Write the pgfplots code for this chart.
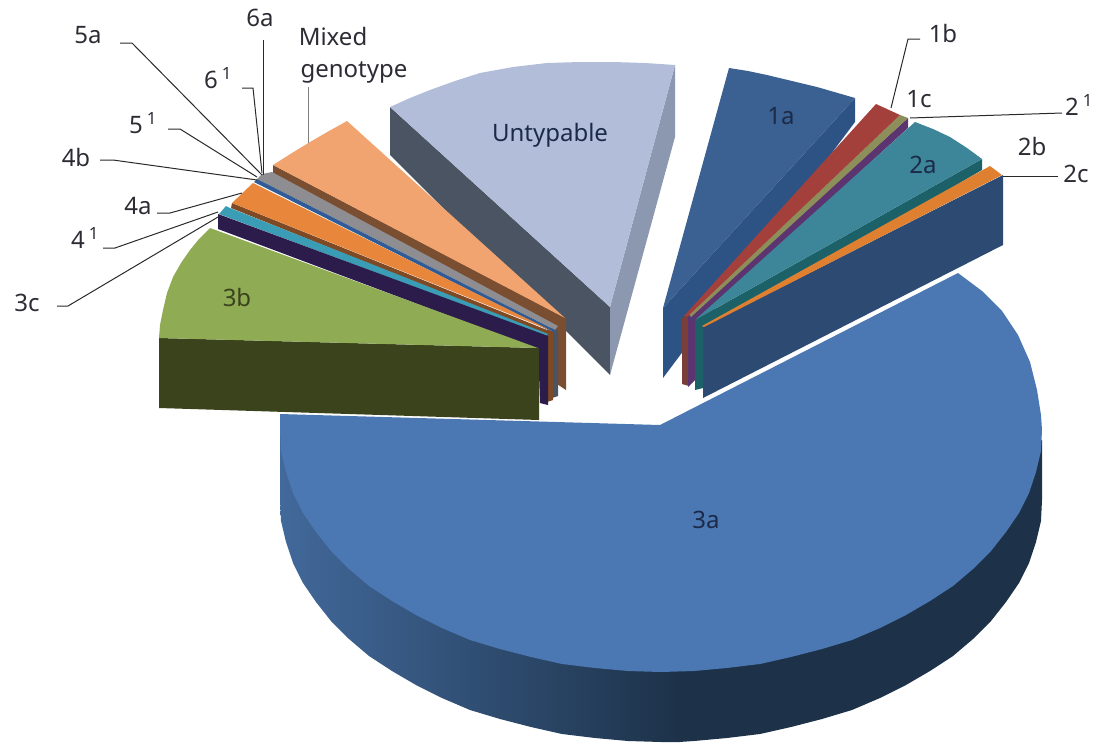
\documentclass[border=0pt]{standalone}
\usepackage{fontspec}
\setmainfont{Noto Sans}
\usepackage{pgfplots}
\pgfplotsset{compat=1.18}
\definecolor{topA}{HTML}{4B78B2}
\definecolor{wallAl}{HTML}{42699B}
\definecolor{wallAm}{HTML}{30527C}
\definecolor{wallAr}{HTML}{1D3249}
\definecolor{topU}{HTML}{B2BDD9}
\definecolor{wallUl}{HTML}{4A5462}
\definecolor{wallUr}{HTML}{8C97B0}
\definecolor{top1a}{HTML}{3A6192}
\definecolor{wall1a}{HTML}{2D5385}
\definecolor{red1b}{HTML}{A4403C}
\definecolor{brown1b}{HTML}{7A3F38}
\definecolor{olive1c}{HTML}{8C8F5A}
\definecolor{purple1c}{HTML}{5B3470}
\definecolor{top2a}{HTML}{3D8598}
\definecolor{wall2a}{HTML}{1C6168}
\definecolor{or2b}{HTML}{DE8030}
\definecolor{wall2c}{HTML}{2C4A72}
\definecolor{top3b}{HTML}{8FAB54}
\definecolor{wall3b}{HTML}{3B431C}
\definecolor{purple3c}{HTML}{2B1C4C}
\definecolor{teal4}{HTML}{3A9DB5}
\definecolor{or4a}{HTML}{E8873C}
\definecolor{wall4a}{HTML}{7E4A26}
\definecolor{blue4b}{HTML}{2F5C96}
\definecolor{gray5}{HTML}{8D8D92}
\definecolor{topM}{HTML}{F1A46F}
\definecolor{wallM}{HTML}{7A4E30}
\definecolor{leader}{HTML}{2A2A2A}
\definecolor{txt}{HTML}{2C2C34}
\definecolor{txtin}{HTML}{1B2A48}
\newcommand{\lab}[4][txt]{\node[text=#1,inner sep=0pt,font=\fontsize{24}{28}\selectfont] at (#2,#3) {#4};}
\begin{document}
\begin{tikzpicture}
\begin{axis}[
    scale only axis,width=1094pt,height=742pt,
    xmin=0,xmax=1094,ymin=0,ymax=742,y dir=reverse,
    axis lines=none,clip=false,
]
% keeps the page as large as the axis
\addplot[draw=none] coordinates {(0,0)(1094,0)(1094,742)(0,742)} -- cycle;
% 3a wall
\addplot[draw=none,left color=wallAl,middle color=wallAm,right color=wallAr] coordinates {
(280,420)(280,500)(281,521)(286,542)(293,563)(303,583)(316,602)(331,621)(349,639)(369,656)(392,671)(416,685)(442,698)(470,710)(500,719)(531,727)(562,734)(595,738)(628,741)(661,742)(680,742)(680,660)} -- cycle;
\addplot[draw=none,fill=wallAr] coordinates {
(679,742)(694,741)(727,738)(760,734)(791,727)(822,719)(852,710)(880,698)(906,685)(930,671)(953,656)(973,639)(991,621)(1006,602)(1019,583)(1029,563)(1036,542)(1041,521)(1042,500)(1042,440)(679,660)} -- cycle;
% 3a top
\addplot[draw=none,fill=topA] coordinates {
(660,425)(280,414)(280,430)(281,451)(286,472)(293,493)(303,513)(316,532)(331,551)(349,569)(369,586)(392,601)(416,615)(442,628)(470,640)(500,649)(531,657)(562,664)(595,668)(628,671)(661,672)(694,671)(727,668)(760,664)(791,657)(822,649)(852,640)(880,628)(906,615)(930,601)(953,586)(973,569)(991,551)(1006,532)(1019,513)(1029,493)(1036,472)(1041,451)(1042,430)(1041,415)(1037,390)(1030,362)(1018,335)(1002,311)(982,291)(958,273)} -- cycle;
% Untypable
\addplot[draw=none,fill=wallUl] coordinates {(390,107)(390,155)(610,375)(610,307)} -- cycle;
\addplot[draw=none,fill=wallUr] coordinates {(675,65)(675,137)(610,375)(610,307)} -- cycle;
\addplot[draw=none,fill=topU] coordinates {(390,107)(410,98)(430,90)(455,81)(480,73)(513,67)(547,63)(580,62)(613,62)(645,63)(675,65)(610,307)} -- cycle;
% left group, vertical inner walls
\addplot[draw=none,fill=wallM] coordinates {(557,320)(566,318)(566,390)(557,384)} -- cycle;
\addplot[draw=none,fill=wallUl] coordinates {(552,325)(558,322)(558,396)(552,398)} -- cycle;
\addplot[draw=none,fill=wall4a] coordinates {(547,330)(553,326)(553,400)(547,402)} -- cycle;
\addplot[draw=none,fill=purple3c] coordinates {(538,345)(548,332)(548,405)(540,403)} -- cycle;
% mixed genotype
\addplot[draw=none,fill=wallM] coordinates {(273,165)(273,175)(558,330)(566,318)} -- cycle;
\addplot[draw=none,fill=topM] coordinates {(273,165)(292,153)(310,142)(329,131)(347,121)(565,318)} -- cycle;
% 4b 5 6 bundle
\addplot[draw=none,fill=gray5] coordinates {(257,179)(262,174)(272,172)(558,326)(555,330)} -- cycle;
\addplot[draw=none,fill=blue4b] coordinates {(254,182)(257,179)(555,330)(552,332)} -- cycle;
% 4a
\addplot[draw=none,fill=wall4a] coordinates {(232,203)(231,208)(548,336)(552,332)} -- cycle;
\addplot[draw=none,fill=or4a] coordinates {(232,203)(253,183)(552,331)} -- cycle;
% 4^1 and 3c
\addplot[draw=none,fill=teal4] coordinates {(219,214)(226,206)(230,208)(548,334)(546,336)} -- cycle;
\addplot[draw=none,fill=purple3c] coordinates {(218,214)(218,229)(540,350)(548,336)} -- cycle;
% 3b
\addplot[draw=none,fill=wall3b] coordinates {(159,338)(159,408)(539,420)(539,348)} -- cycle;
\addplot[draw=none,fill=top3b] coordinates {(210,228)(199,239)(190,250)(181,263)(173,277)(167,293)(163,310)(160,325)(159,338)(538,348)} -- cycle;
% 1a
\addplot[draw=none,fill=wall1a] coordinates {(855,98)(855,122)(663,378)(663,308)} -- cycle;
\addplot[draw=none,fill=top1a] coordinates {(729,68)(748,71)(767,75)(792,81)(817,87)(855,98)(663,308)} -- cycle;
% right group, vertical inner walls
\addplot[draw=none,fill=brown1b] coordinates {(682,318)(689,314)(689,386)(682,384)} -- cycle;
\addplot[draw=none,fill=purple1c] coordinates {(688,316)(696,322)(696,379)(688,387)} -- cycle;
\addplot[draw=none,fill=wall2a] coordinates {(695,322)(703,326)(703,388)(695,390)} -- cycle;
% 1c
\addplot[draw=none,fill=purple1c] coordinates {(908,118)(908,128)(696,322)(690,316)} -- cycle;
\addplot[draw=none,fill=olive1c] coordinates {(900,115)(908,118)(691,317)(689,314)} -- cycle;
% 1b
\addplot[draw=none,fill=red1b] coordinates {(876,104)(900,115)(688,316)(684,316)} -- cycle;
% 2a
\addplot[draw=none,fill=wall2a] coordinates {(982,159)(982,170)(704,332)(695,320)} -- cycle;
\addplot[draw=none,fill=top2a] coordinates {(915,122)(933,129)(950,137)(967,148)(982,159)(695,320)} -- cycle;
% 2c wall and 2b
\addplot[draw=none,fill=wall2c] coordinates {(1003,175)(1003,245)(703,398)(703,327)} -- cycle;
\addplot[draw=none,fill=or2b] coordinates {(990,166)(1002,175)(704,327)(702,326)} -- cycle;
% leaders
\addplot[leader,line width=1pt] coordinates {(120,43)(132,43)(262,175)};
\addplot[leader,line width=1pt] coordinates {(242,88)(253,88)(262,173)};
\addplot[leader,line width=1pt] coordinates {(263,40)(263,175)};
\addplot[gray,line width=1pt] coordinates {(308,87)(308,143)};
\addplot[leader,line width=1pt] coordinates {(168,129)(180,129)(257,177)};
\addplot[leader,line width=1pt] coordinates {(100,160)(113,160)(257,180)};
\addplot[leader,line width=1pt] coordinates {(157,213)(170,213)(242,193)};
\addplot[leader,line width=1pt] coordinates {(103,248)(115,248)(218,212)};
\addplot[leader,line width=1pt] coordinates {(57,306)(68,306)(218,217)};
\addplot[leader,line width=1pt] coordinates {(920,39)(908,39)(891,108)};
\addplot[leader,line width=1pt] coordinates {(1062,113)(910,118)};
\addplot[leader,line width=1pt] coordinates {(1058,176)(1003,176)};
% labels
\lab[txtin]{706}{520}{3a}
\lab[wall3b]{237}{297}{3b}
\lab[txtin]{550}{135}{Untypable}
\lab[txtin]{781}{116}{1a}
\lab[txtin]{923}{165}{2a}
\lab{943}{33}{1b}
\lab{919}{99}{1c}
\lab{1079}{105}{2\,\textsuperscript{1}}
\lab{1032}{146}{2b}
\lab{1076}{174}{2c}
\lab{260}{18}{6a}
\lab{333}{36}{Mixed}
\lab{354}{72}{genotype}
\lab{88}{35}{5a}
\lab{218}{78}{6\,\textsuperscript{1}}
\lab{143}{123}{5\,\textsuperscript{1}}
\lab{76}{157}{4b}
\lab{138}{206}{4a}
\lab{85}{238}{4\,\textsuperscript{1}}
\lab{27}{303}{3c}
\end{axis}
\end{tikzpicture}
\end{document}
